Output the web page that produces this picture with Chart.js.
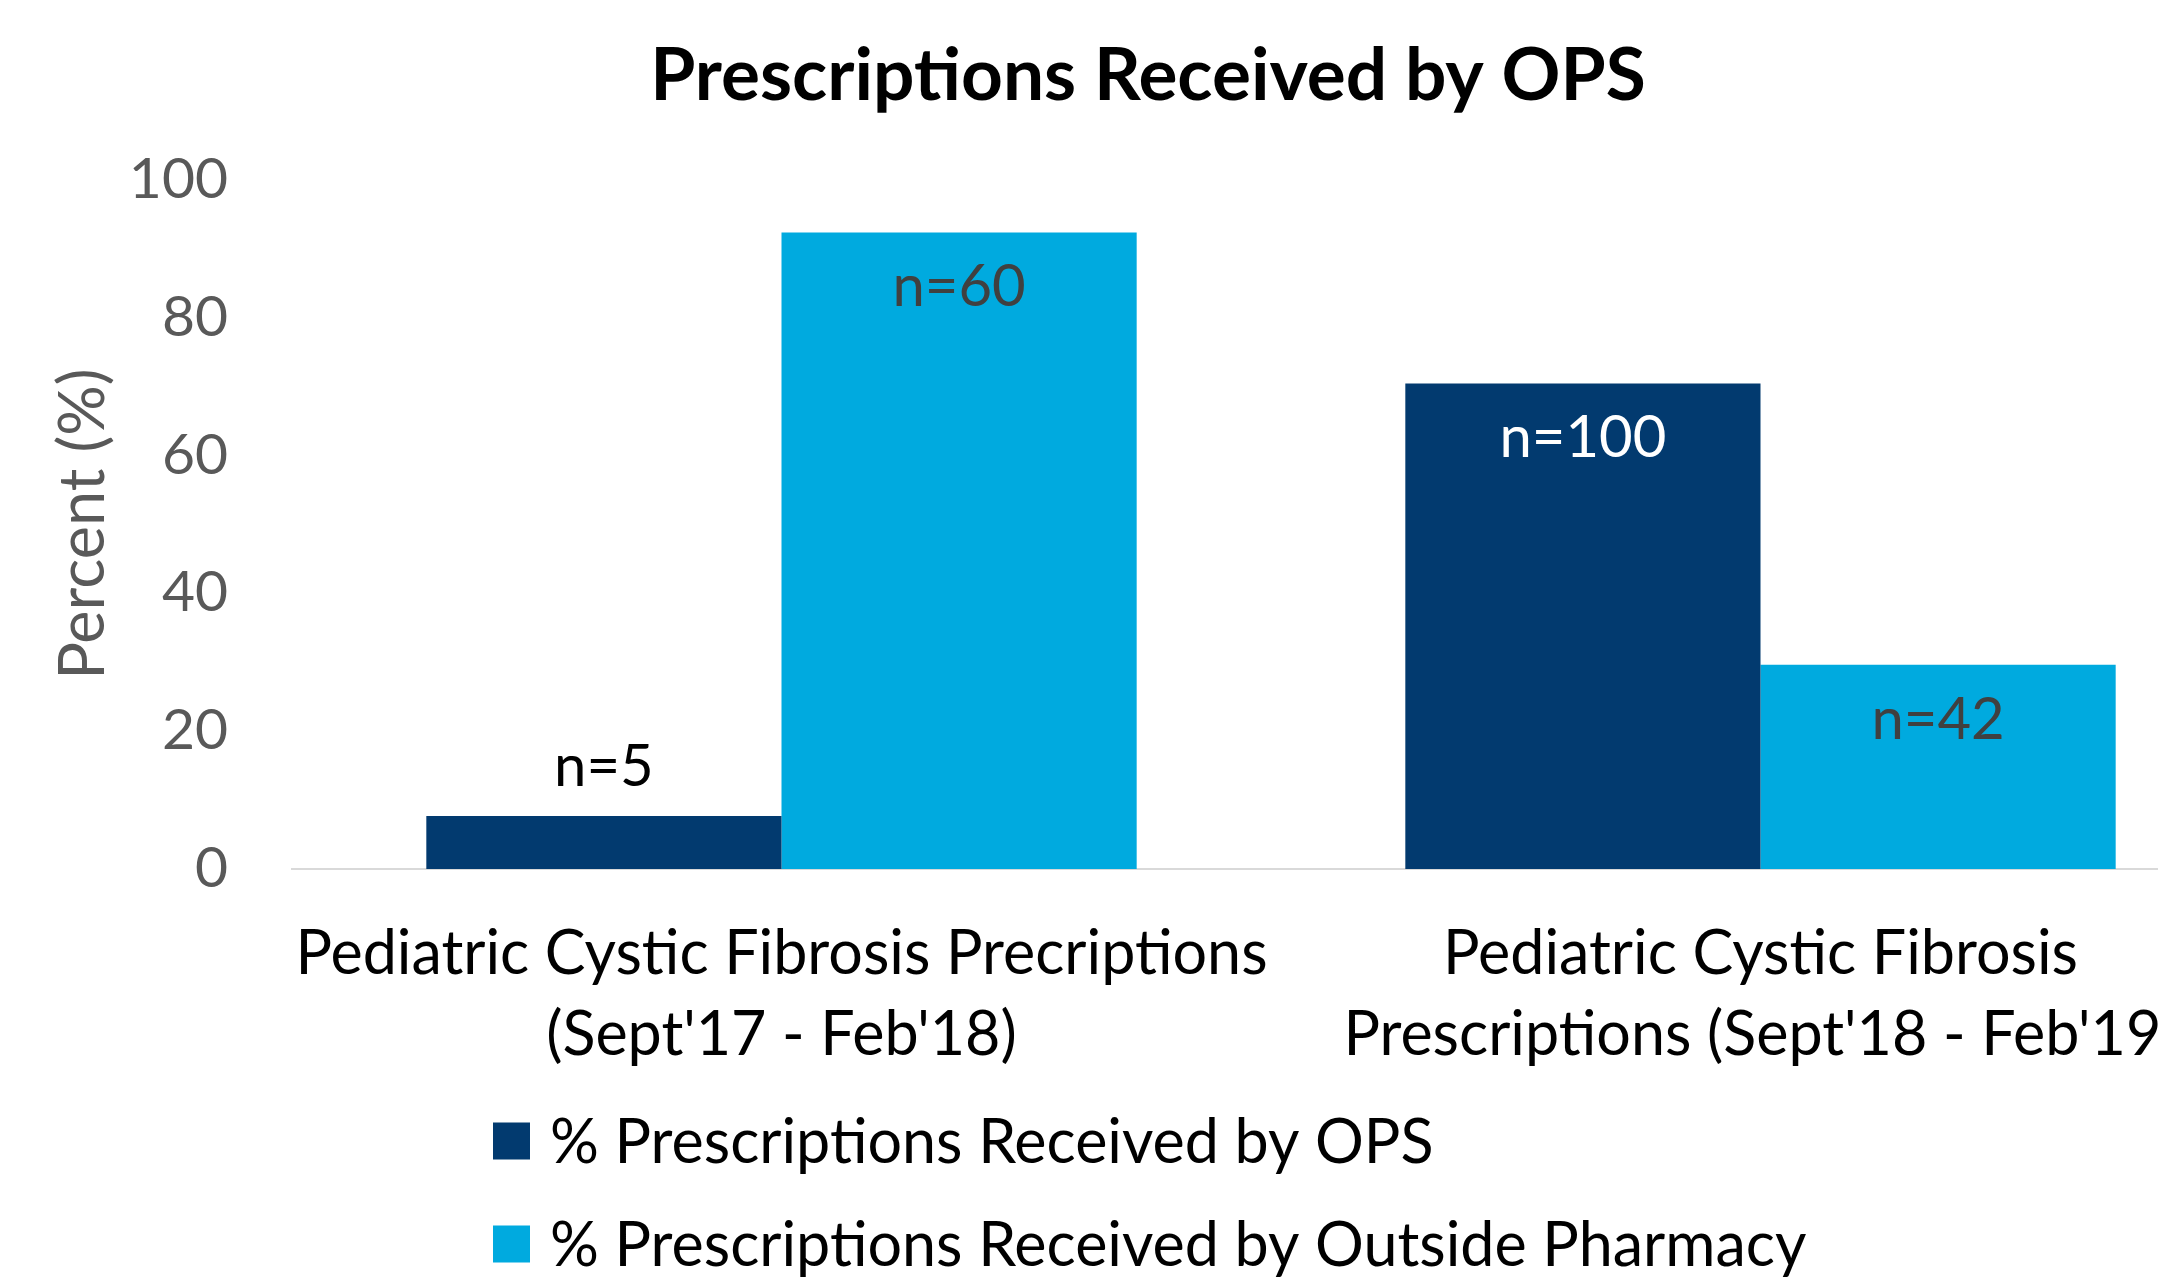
<!DOCTYPE html>
<html>
<head>
<meta charset="utf-8">
<script src="https://cdn.jsdelivr.net/npm/chart.js@4/dist/chart.umd.min.js"></script>
<style>
  html, body { margin: 0; padding: 0; background: #ffffff; overflow: hidden; }
  #wrap { width: 2296px; height: 1280px; }
</style>
</head>
<body>
<div id="wrap"><canvas id="c" width="2296" height="1280"></canvas></div>
<script>
// ---- data ----
const categories = [
  ['Pediatric Cystic Fibrosis Precriptions', "(Sept'17 - Feb'18)"],
  ['Pediatric Cystic Fibrosis', "Prescriptions (Sept'18 - Feb'19)"]
];
const seriesNames = ['% Prescriptions Received by OPS', '% Prescriptions Received by Outside Pharmacy'];
const opsValues = [7.7, 70.4];
const outsideValues = [92.3, 29.6];
const opsCounts = ['n=5', 'n=100'];
const outsideCounts = ['n=60', 'n=42'];
const yTicks = [0, 20, 40, 60, 80, 100];

const DARK = '#023A6F';
const LIGHT = '#00AADF';
const FONT = 'Lato, "Open Sans", "DejaVu Sans", sans-serif';

// labels "n=..." drawn at bar ends
const countLabels = {
  id: 'countLabels',
  afterDatasetsDraw(chart) {
    const ctx = chart.ctx;
    ctx.save();
    ctx.font = '58px ' + FONT;
    ctx.textAlign = 'center';
    ctx.textBaseline = 'middle';
    chart.data.datasets.forEach((ds, di) => {
      const meta = chart.getDatasetMeta(di);
      meta.data.forEach((bar, i) => {
        const cfg = ds.countStyle[i];
        const y = cfg.inside ? bar.y + 55 : bar.y - 49;
        ctx.fillStyle = cfg.color;
        ctx.fillText(ds.counts[i], bar.x, y);
      });
    });
    ctx.restore();
  }
};

// stacked legend below the axis labels
const stackedLegend = {
  id: 'stackedLegend',
  afterDraw(chart) {
    const ctx = chart.ctx;
    ctx.save();
    ctx.font = '61px ' + FONT;
    ctx.textAlign = 'left';
    ctx.textBaseline = 'middle';
    const x0 = 493, rowY = [1141, 1244], box = 37;
    chart.data.datasets.forEach((ds, i) => {
      ctx.fillStyle = ds.backgroundColor;
      ctx.fillRect(x0, rowY[i] - box / 2, box, box);
      ctx.fillStyle = '#000000';
      ctx.fillText(ds.label, x0 + 57, rowY[i] + 2);
    });
    ctx.restore();
  }
};

new Chart(document.getElementById('c'), {
  type: 'bar',
  data: {
    labels: categories,
    datasets: [
      {
        label: seriesNames[0],
        data: opsValues,
        backgroundColor: DARK,
        counts: opsCounts,
        countStyle: [{inside: false, color: '#000000'}, {inside: true, color: '#ffffff'}],
        categoryPercentage: 0.7256,
        barPercentage: 1.0,
        borderWidth: 0
      },
      {
        label: seriesNames[1],
        data: outsideValues,
        backgroundColor: LIGHT,
        counts: outsideCounts,
        countStyle: [{inside: true, color: '#404040'}, {inside: true, color: '#404040'}],
        categoryPercentage: 0.7256,
        barPercentage: 1.0,
        borderWidth: 0
      }
    ]
  },
  plugins: [countLabels, stackedLegend],
  options: {
    responsive: false,
    devicePixelRatio: 1,
    animation: false,
    layout: { padding: { left: 46, right: 46, top: 0, bottom: 159 } },
    plugins: {
      legend: { display: false },
      tooltip: { enabled: false },
      title: {
        display: true,
        text: 'Prescriptions Received by OPS',
        color: '#000000',
        font: { family: FONT, size: 73, weight: 'bold', lineHeight: 1.1 },
        padding: { top: 36, bottom: 63 }
      }
    },
    scales: {
      x: {
        grid: { display: false, drawTicks: false },
        border: { display: true, color: '#D9D9D9', width: 2 },
        ticks: {
          color: '#000000',
          font: { family: FONT, size: 61, lineHeight: '81px' },
          padding: 45,
          maxRotation: 0,
          minRotation: 0,
          autoSkip: false
        }
      },
      y: {
        min: 0,
        max: 100,
        afterBuildTicks(scale) { scale.ticks = yTicks.map(v => ({ value: v })); },
        afterFit(scale) { scale.width = 246; },
        grid: { display: false, drawTicks: false },
        border: { display: false },
        ticks: {
          color: '#595959',
          font: { family: FONT, size: 57 },
          padding: 64
        },
        title: {
          display: true,
          text: 'Percent (%)',
          color: '#595959',
          font: { family: FONT, size: 63, lineHeight: 1.2 },
          padding: { top: 0, bottom: 0 }
        }
      }
    }
  }
});
</script>
</body>
</html>
